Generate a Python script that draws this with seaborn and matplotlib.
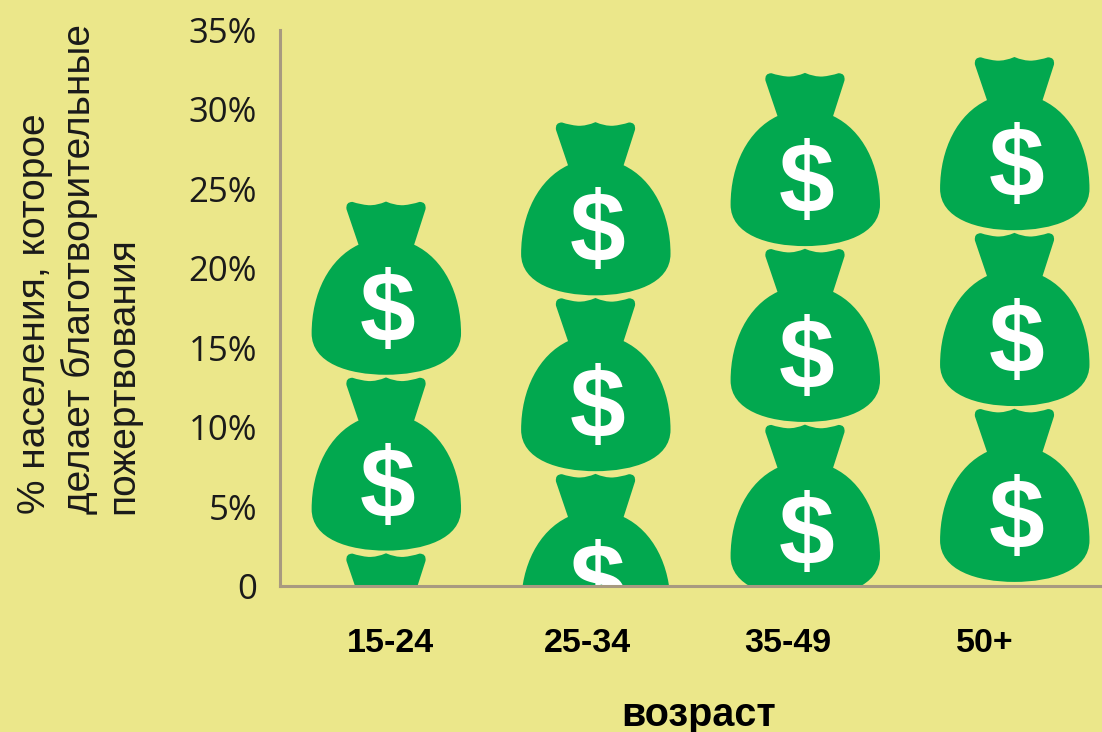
import math
import matplotlib
matplotlib.use("Agg")
import matplotlib.pyplot as plt
from matplotlib.path import Path
from matplotlib.patches import PathPatch
from matplotlib.transforms import Affine2D
import pandas as pd
import seaborn as sns

categories = ["15-24", "25-34", "35-49", "50+"]
values = [24.2, 29.2, 32.3, 33.3]
ytick_values = [0, 5, 10, 15, 20, 25, 30, 35]
ytick_labels = ["0", "5%", "10%", "15%", "20%", "25%", "30%", "35%"]
xlabel_positions = [0.02, 0.964, 1.919, 2.859]
bag_value = 11.07  # one bag stands for this many percent
ylabel = "% населения, которое\nделает благотворительные\nпожертвования"
xlabel = "возраст"

BG = "#EBE78A"
GREEN = "#02A84F"
AXIS = "#A89A80"

sns.set_theme(style="white")
plt.rcParams["font.family"] = ["Liberation Sans", "DejaVu Sans"]

fig = plt.figure(figsize=(11.02, 7.32), dpi=100, facecolor=BG)
ax = fig.add_axes([280 / 1102, (732 - 586) / 732, 822 / 1102, 556 / 732], facecolor=BG)

df = pd.DataFrame({"age": categories, "share": values})
sns.barplot(data=df, x="age", y="share", ax=ax, width=0.71, color=GREEN, errorbar=None)


def P(zx, zy):
    return ((zx - 258) / 222 * 0.5 + 0.5, (zy - 33) / 530)


right = [
    (Path.MOVETO, (258, 33)),
    (Path.CURVE3, (285, 45)), (Path.CURVE3, (310, 44)),
    (Path.CURVE3, (335, 42)), (Path.CURVE3, (358, 34)),
    (Path.CURVE3, (379, 34)), (Path.CURVE3, (376, 56)),
    (Path.LINETO, (342, 163)),
    (Path.CURVE4, (430, 205)), (Path.CURVE4, (482, 310)), (Path.CURVE4, (482, 430)),
    (Path.CURVE4, (482, 520)), (Path.CURVE4, (370, 555)), (Path.CURVE4, (258, 555)),
]
left = [
    (Path.CURVE4, (146, 555)), (Path.CURVE4, (36, 520)), (Path.CURVE4, (36, 430)),
    (Path.CURVE4, (36, 310)), (Path.CURVE4, (88, 205)), (Path.CURVE4, (176, 163)),
    (Path.LINETO, (140, 56)),
    (Path.CURVE3, (137, 34)), (Path.CURVE3, (158, 34)),
    (Path.CURVE3, (181, 42)), (Path.CURVE3, (206, 44)),
    (Path.CURVE3, (231, 45)), (Path.CURVE3, (258, 33)),
]
codes = [c for c, _ in right + left] + [Path.CLOSEPOLY]
verts = [P(*p) for _, p in right + left] + [P(258, 33)]
bag = Path(verts, codes)

for bar in list(ax.patches):
    top = bar.get_height()
    x0 = bar.get_x()
    w = bar.get_width()
    bar.set_visible(False)
    for i in range(math.ceil(top / bag_value)):
        t = top - i * bag_value
        if t < 0.5:
            continue
        tr = Affine2D().scale(w, -bag_value).translate(x0, t) + ax.transData
        ax.add_patch(PathPatch(bag, transform=tr, facecolor=GREEN, edgecolor="none", zorder=2))
        yc = t - bag_value * 0.65
        if yc > -1.5:
            ax.text(x0 + w / 2 + 0.008, yc, "$", color="white", fontsize=72,
                    fontweight="bold", ha="center", va="center", zorder=3, clip_on=True)

ax.set_xlim(-0.506, 3.418)
ax.set_ylim(0, 35)
ax.set_yticks(ytick_values)
ax.set_yticklabels(ytick_labels, fontsize=25, color="#1a1a1a", family="Open Sans")
ax.set_xticks(xlabel_positions)
ax.set_xticklabels(categories, fontsize=24.5, fontweight="bold", color="black")
ax.tick_params(axis="both", length=0)
ax.tick_params(axis="y", pad=16.5)
ax.tick_params(axis="x", pad=30)
ax.set_xlabel("")
ax.set_ylabel("")
for s in ("top", "right"):
    ax.spines[s].set_visible(False)
for s in ("left", "bottom"):
    ax.spines[s].set_color(AXIS)
    ax.spines[s].set_linewidth(2.2)
    ax.spines[s].set_zorder(5)

fig.text(699 / 1102, 1 - 715 / 732, xlabel, fontsize=28.5, fontweight="bold", color="black",
         ha="center", va="center")
fig.text(79 / 1102, 1 - 514 / 732, ylabel, fontsize=28, color="#1a1a1a", rotation=90,
         ha="center", va="bottom", multialignment="left", linespacing=1.26)

fig.savefig("out.png", dpi=100, facecolor=BG)
